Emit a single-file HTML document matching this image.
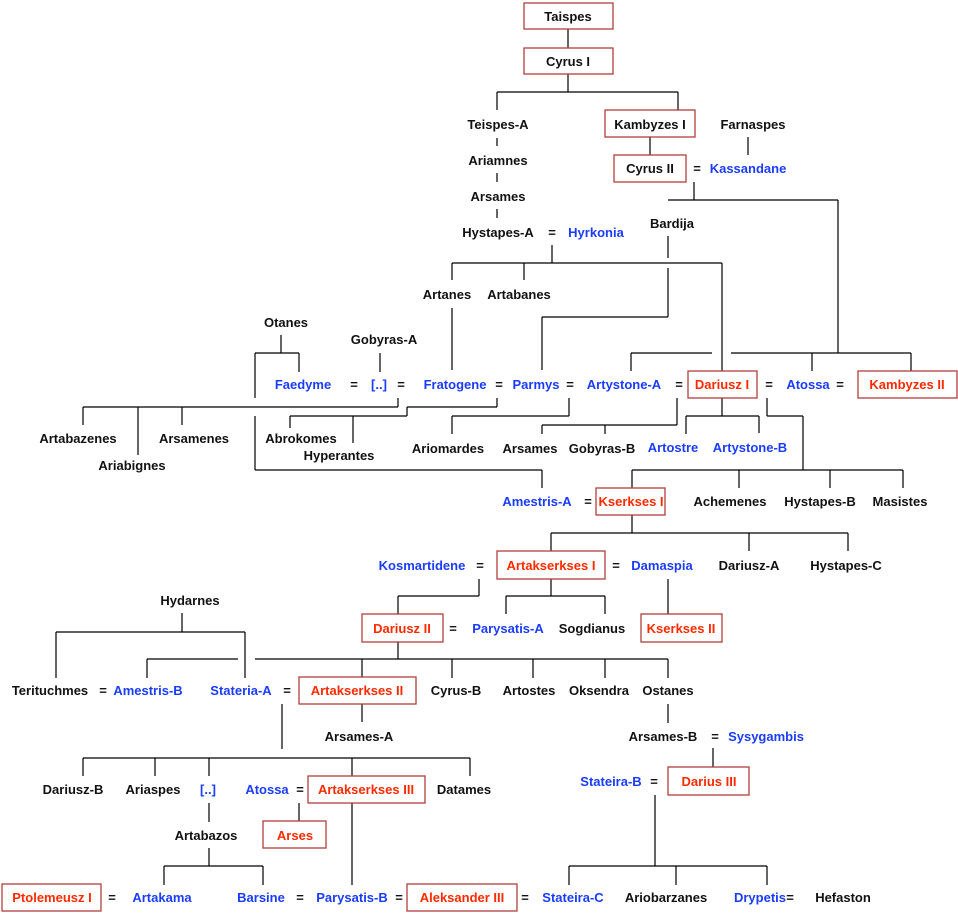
<!DOCTYPE html>
<html><head><meta charset="utf-8"><style>
html,body{margin:0;padding:0;background:#fff}
svg{display:block}
text{font-family:"Liberation Sans",sans-serif;font-size:13px;font-weight:bold;text-anchor:middle}
.b{fill:#1a3cff}.r{fill:#ff2a00}.k{fill:#111}
rect{fill:#fff;stroke:#b0403a;stroke-width:1.3}
path{stroke:#000;stroke-width:1.2;fill:none}
</style></head><body>
<svg width="958" height="913" viewBox="0 0 958 913" xmlns="http://www.w3.org/2000/svg">
<path d="M568 29V48M568 74V92M497 92H678M497 92V110M678 92V110
M497 138V146M497 173V182M497 209V218
M650 137V155M748 137V155
M694 182V200M668 200H838M838 200V353M668 236V258M668 268V317M668 317H542M542 317V370
M552 245V263M452 263H722M452 263V280M524 263V280M722 263V371M452 308V370
M281 335V353M255 353H299M299 353V372M255 353V398M380 353V372
M631 371V353M631 353H712M731 353H911M812 353V371M911 353V371
M398 398V407M83 407H398M83 407V425M138 407V455M182 407V425
M497 398V407M407 407H497M407 407V416M290 416H407M290 416V428M353 416V443
M255 416V470M255 470H542M542 470V488
M569 398V416M452 416H569M452 416V434
M677 398V425M542 425H677M542 425V434M605 425V434
M722 398V416M686 416H759M686 416V434M759 416V433
M767 398V416M767 416H803M803 416V470M632 470H903M632 470V488M739 470V488M830 470V488M903 470V488
M632 515V533M551 533H848M551 533V551M749 533V551M848 533V551
M479 579V596M398 596H479M398 596V614
M551 579V596M506 596H605M506 596V614M605 596V614
M668 579V614
M182 613V632M56 632H245M56 632V678M245 632V678
M147 659H238M147 659V678M255 659H668M398 642V659M362 659V677M452 659V678M533 659V678M605 659V678M668 659V678
M362 704V722M668 704V723
M282 704V749M83 758H470M83 758V776M155 758V776M209 758V776M352 758V776M470 758V776
M299 803V822M209 803V822M209 848V866M164 866H263M164 866V885M263 866V885M352 803V885
M713 748V767M655 795V866M569 866H767M569 866V885M676 866V885M767 866V885"/>
<rect x="524" y="3" width="89" height="26"/><rect x="524" y="48" width="89" height="26"/>
<rect x="605" y="110" width="90" height="27"/><rect x="614" y="155" width="72" height="27"/>
<rect x="688" y="371" width="69" height="27"/><rect x="858" y="371" width="99" height="27"/>
<rect x="596" y="488" width="69" height="27"/><rect x="497" y="551" width="108" height="28"/>
<rect x="362" y="614" width="81" height="28"/><rect x="641" y="614" width="81" height="28"/>
<rect x="299" y="677" width="117" height="27"/><rect x="308" y="776" width="117" height="27"/>
<rect x="263" y="821" width="63" height="27"/><rect x="668" y="767" width="81" height="28"/>
<rect x="2" y="884" width="99" height="27"/><rect x="407" y="884" width="110" height="27"/>
<text class="k" x="568" y="21">Taispes</text><text class="k" x="568" y="66">Cyrus I</text>
<text class="k" x="498" y="129">Teispes-A</text><text class="k" x="650" y="129">Kambyzes I</text><text class="k" x="753" y="129">Farnaspes</text>
<text class="k" x="498" y="165">Ariamnes</text><text class="k" x="650" y="173">Cyrus II</text><text class="k" x="697" y="173">=</text><text class="b" x="748" y="173">Kassandane</text>
<text class="k" x="498" y="201">Arsames</text>
<text class="k" x="498" y="237">Hystapes-A</text><text class="k" x="552" y="237">=</text><text class="b" x="596" y="237">Hyrkonia</text>
<text class="k" x="672" y="228">Bardija</text>
<text class="k" x="447" y="299">Artanes</text><text class="k" x="519" y="299">Artabanes</text>
<text class="k" x="286" y="327">Otanes</text><text class="k" x="384" y="344">Gobyras-A</text>
<text class="b" x="303" y="389">Faedyme</text><text class="k" x="354" y="389">=</text><text class="b" x="379" y="389">[..]</text><text class="k" x="401" y="389">=</text>
<text class="b" x="455" y="389">Fratogene</text><text class="k" x="499" y="389">=</text><text class="b" x="536" y="389">Parmys</text><text class="k" x="570" y="389">=</text>
<text class="b" x="624" y="389">Artystone-A</text><text class="k" x="679" y="389">=</text><text class="r" x="722" y="389">Dariusz I</text>
<text class="k" x="769" y="389">=</text><text class="b" x="808" y="389">Atossa</text><text class="k" x="840" y="389">=</text><text class="r" x="907" y="389">Kambyzes II</text>
<text class="k" x="78" y="443">Artabazenes</text><text class="k" x="132" y="470">Ariabignes</text><text class="k" x="194" y="443">Arsamenes</text>
<text class="k" x="301" y="443">Abrokomes</text><text class="k" x="339" y="460">Hyperantes</text>
<text class="k" x="448" y="453">Ariomardes</text><text class="k" x="530" y="453">Arsames</text><text class="k" x="602" y="453">Gobyras-B</text>
<text class="b" x="673" y="452">Artostre</text><text class="b" x="750" y="452">Artystone-B</text>
<text class="b" x="537" y="506">Amestris-A</text><text class="k" x="588" y="506">=</text><text class="r" x="631" y="506">Kserkses I</text>
<text class="k" x="730" y="506">Achemenes</text><text class="k" x="820" y="506">Hystapes-B</text><text class="k" x="900" y="506">Masistes</text>
<text class="b" x="422" y="570">Kosmartidene</text><text class="k" x="480" y="570">=</text><text class="r" x="551" y="570">Artakserkses I</text>
<text class="k" x="616" y="570">=</text><text class="b" x="662" y="570">Damaspia</text><text class="k" x="749" y="570">Dariusz-A</text><text class="k" x="846" y="570">Hystapes-C</text>
<text class="r" x="402" y="633">Dariusz II</text><text class="k" x="453" y="633">=</text><text class="b" x="508" y="633">Parysatis-A</text><text class="k" x="592" y="633">Sogdianus</text><text class="r" x="681" y="633">Kserkses II</text>
<text class="k" x="190" y="605">Hydarnes</text>
<text class="k" x="50" y="695">Terituchmes</text><text class="k" x="103" y="695">=</text><text class="b" x="148" y="695">Amestris-B</text>
<text class="b" x="241" y="695">Stateria-A</text><text class="k" x="287" y="695">=</text><text class="r" x="357" y="695">Artakserkses II</text>
<text class="k" x="456" y="695">Cyrus-B</text><text class="k" x="529" y="695">Artostes</text><text class="k" x="599" y="695">Oksendra</text><text class="k" x="668" y="695">Ostanes</text>
<text class="k" x="359" y="741">Arsames-A</text>
<text class="k" x="663" y="741">Arsames-B</text><text class="k" x="715" y="741">=</text><text class="b" x="766" y="741">Sysygambis</text>
<text class="k" x="73" y="794">Dariusz-B</text><text class="k" x="153" y="794">Ariaspes</text><text class="b" x="208" y="794">[..]</text>
<text class="b" x="267" y="794">Atossa</text><text class="k" x="300" y="794">=</text><text class="r" x="366" y="794">Artakserkses III</text><text class="k" x="464" y="794">Datames</text>
<text class="b" x="611" y="786">Stateira-B</text><text class="k" x="654" y="786">=</text><text class="r" x="709" y="786">Darius III</text>
<text class="k" x="206" y="840">Artabazos</text><text class="r" x="295" y="840">Arses</text>
<text class="r" x="52" y="902">Ptolemeusz I</text><text class="k" x="112" y="902">=</text><text class="b" x="162" y="902">Artakama</text>
<text class="b" x="261" y="902">Barsine</text><text class="k" x="300" y="902">=</text><text class="b" x="352" y="902">Parysatis-B</text><text class="k" x="399" y="902">=</text>
<text class="r" x="462" y="902">Aleksander III</text><text class="k" x="525" y="902">=</text><text class="b" x="573" y="902">Stateira-C</text>
<text class="k" x="666" y="902">Ariobarzanes</text><text class="b" x="760" y="902">Drypetis</text><text class="k" x="790" y="902">=</text><text class="k" x="843" y="902">Hefaston</text>
</svg>
</body></html>
